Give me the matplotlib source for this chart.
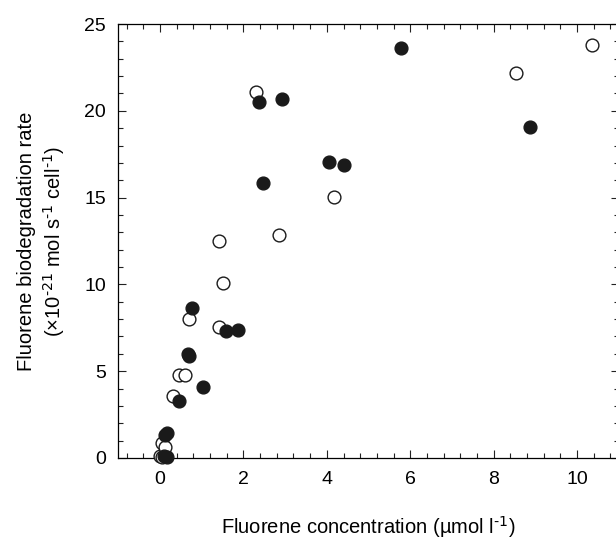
import matplotlib
matplotlib.use("Agg")
import matplotlib.pyplot as plt
from matplotlib.ticker import MultipleLocator

plt.rcParams['font.family'] = ['Liberation Sans', 'DejaVu Sans']
plt.rcParams['mathtext.default'] = 'regular'

# Filled circles
filled_x = [0.12, 0.16, 0.16, 0.10, 0.46, 1.04, 0.66, 0.70, 0.76, 1.58, 1.86,
            2.46, 2.38, 2.93, 4.04, 4.40, 5.78, 8.86]
filled_y = [1.35, 1.42, 0.05, 0.10, 3.30, 4.07, 6.00, 5.90, 8.62, 7.31, 7.39,
            15.86, 20.50, 20.67, 17.03, 16.90, 23.63, 19.06]

# Open circles
open_x = [0.00, 0.05, 0.04, 0.12, 0.30, 0.46, 0.60, 0.70, 1.41, 1.51, 1.41,
          2.86, 2.30, 4.17, 8.54, 10.35]
open_y = [0.10, 0.05, 0.84, 0.65, 3.57, 4.78, 4.78, 7.99, 7.53, 10.06, 12.52,
          12.83, 21.10, 15.05, 22.20, 23.78]

x_ticks = [0, 2, 4, 6, 8, 10]
y_ticks = [0, 5, 10, 15, 20, 25]

fig = plt.figure(figsize=(6.16, 5.43), dpi=100)
ax = fig.add_axes([118.3 / 616, 85 / 543, 500.5 / 616, 434 / 543])

ax.plot(open_x, open_y, linestyle='none', marker='o', ms=9.2,
        mfc='white', mec='#1a1a1a', mew=1.0, zorder=3, clip_on=False)
ax.plot(filled_x, filled_y, linestyle='none', marker='o', ms=9.2,
        mfc='#1a1a1a', mec='#1a1a1a', mew=1.0, zorder=4, clip_on=False)

ax.set_xlim(-1, 11)
ax.set_ylim(0, 25)
ax.set_xticks(x_ticks)
ax.set_yticks(y_ticks)
ax.xaxis.set_minor_locator(MultipleLocator(0.4))
ax.yaxis.set_minor_locator(MultipleLocator(1))
ax.tick_params(which='both', direction='in', top=True, right=True,
               labelsize=14, width=0.8, color='#222222')
ax.tick_params(which='major', length=6, pad=9)
ax.tick_params(which='minor', length=3.5)
for s in ax.spines.values():
    s.set_linewidth(0.9)

ax.set_xlabel(r'Fluorene concentration (µmol l$^{\text{-1}}$)', fontsize=14.5, labelpad=19)
ax.set_ylabel('Fluorene biodegradation rate\n'
              r'(×10$^{\text{-21}}$ mol s$^{\text{-1}}$ cell$^{\text{-1}}$)',
              fontsize=14.5, labelpad=12, linespacing=1.3)

fig.savefig('out.png', dpi=100)
